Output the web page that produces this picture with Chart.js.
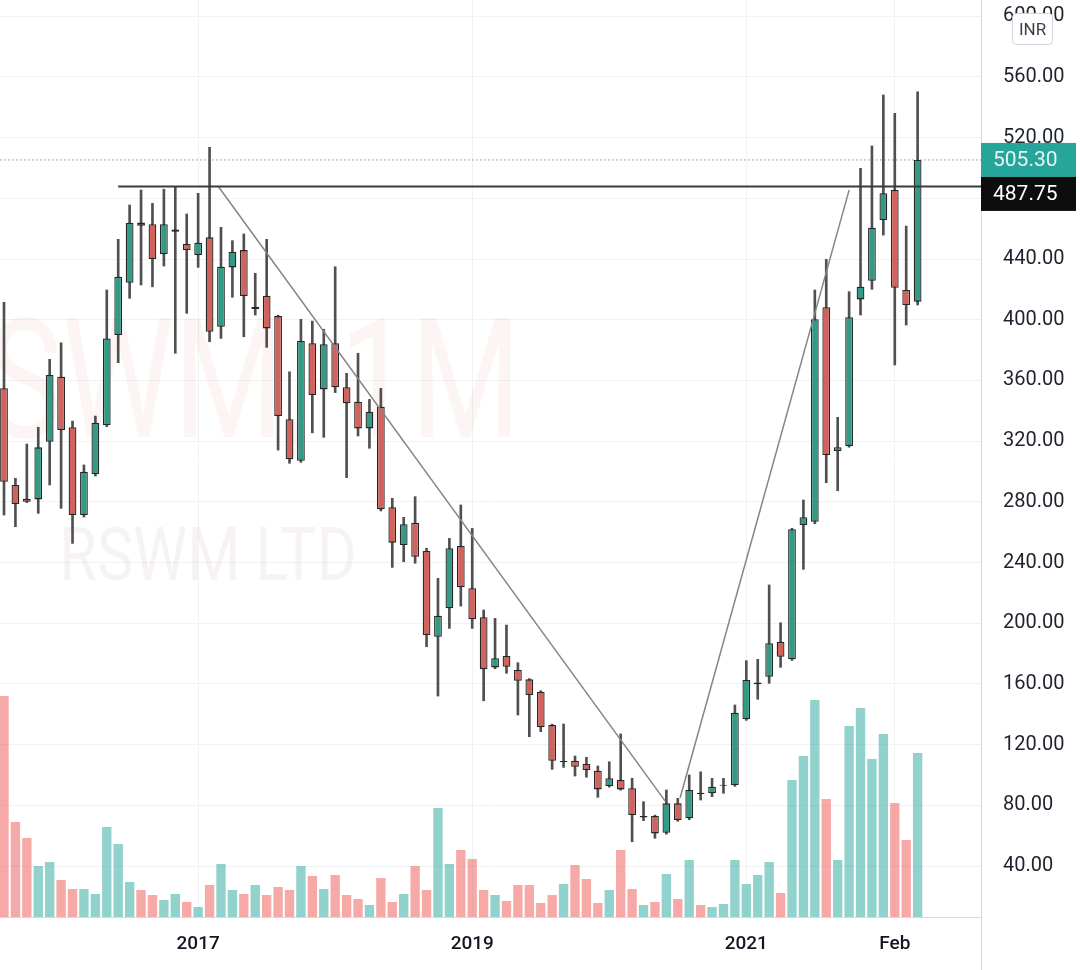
<!DOCTYPE html>
<html>
<head>
<meta charset="utf-8">
<script src="https://cdn.jsdelivr.net/npm/chart.js@4.4.1/dist/chart.umd.min.js"></script>
<style>
  html, body { margin: 0; padding: 0; background: #ffffff; }
</style>
</head>
<body>
<canvas id="chart" width="1080" height="970"></canvas>
<script>
// RSWM LTD, monthly candles (INR), Aug 2015 .. Apr 2022
const months = [
    '2015-08', '2015-09', '2015-10', '2015-11', '2015-12',
    '2016-01', '2016-02', '2016-03', '2016-04', '2016-05', '2016-06', '2016-07', '2016-08', '2016-09', '2016-10', '2016-11', '2016-12',
    '2017-01', '2017-02', '2017-03', '2017-04', '2017-05', '2017-06', '2017-07', '2017-08', '2017-09', '2017-10', '2017-11', '2017-12',
    '2018-01', '2018-02', '2018-03', '2018-04', '2018-05', '2018-06', '2018-07', '2018-08', '2018-09', '2018-10', '2018-11', '2018-12',
    '2019-01', '2019-02', '2019-03', '2019-04', '2019-05', '2019-06', '2019-07', '2019-08', '2019-09', '2019-10', '2019-11', '2019-12',
    '2020-01', '2020-02', '2020-03', '2020-04', '2020-05', '2020-06', '2020-07', '2020-08', '2020-09', '2020-10', '2020-11', '2020-12',
    '2021-01', '2021-02', '2021-03', '2021-04', '2021-05', '2021-06', '2021-07', '2021-08', '2021-09', '2021-10', '2021-11', '2021-12',
    '2022-01', '2022-02', '2022-03', '2022-04'
];
const opens = [
    354.8, 291.1, 282.0, 281.6, 319.6,
    362.4, 329.1, 271.3, 298.1, 330.6, 389.9, 424.4, 464.0, 462.9, 443.3, 458.0, 449.9,
    442.6, 454.3, 395.4, 434.5, 445.9, 407.0, 415.8, 402.4, 334.4, 307.1, 384.5, 354.1,
    384.5, 355.5, 346.0, 328.4, 342.7, 276.4, 251.5, 266.2, 247.6, 191.1, 209.8, 250.9,
    223.0, 203.9, 170.9, 178.4, 169.2, 163.0, 154.9, 132.9, 108.5, 109.4, 107.2, 102.8,
    92.7, 96.7, 91.2, 72.0, 73.0, 61.9, 81.3, 71.4, 88.3, 87.9, 92.9, 93.4,
    136.7, 159.8, 164.7, 187.8, 176.2, 264.7, 266.9, 408.2, 313.5, 316.8, 413.4, 425.7,
    465.7, 485.5, 419.6, 411.9
];
const highs = [
    411.5, 295.5, 318.1, 329.1, 373.9,
    384.8, 333.2, 304.3, 336.5, 419.6, 453.0, 475.6, 485.5, 476.7, 486.0, 487.6, 469.7,
    483.3, 513.6, 460.9, 452.1, 456.5, 430.6, 453.0, 403.0, 365.7, 400.3, 399.1, 393.7,
    434.9, 364.7, 377.9, 347.5, 354.8, 282.3, 269.8, 283.4, 249.4, 229.6, 255.9, 277.9,
    262.5, 208.7, 203.2, 198.8, 174.0, 163.5, 155.5, 133.5, 133.6, 112.5, 111.6, 105.9,
    108.7, 127.0, 97.8, 82.4, 73.5, 90.1, 84.6, 100.0, 102.1, 97.8, 97.8, 146.1,
    175.3, 176.2, 225.2, 200.3, 262.5, 281.2, 419.6, 439.8, 335.7, 418.5, 499.8, 514.5,
    548.1, 536.0, 461.7, 550.2
];
const lows = [
    271.3, 263.6, 279.5, 272.4, 291.1,
    275.7, 252.6, 270.0, 297.0, 329.5, 371.7, 414.1, 422.9, 421.7, 435.4, 377.9, 404.2,
    434.5, 385.5, 387.7, 414.8, 388.8, 403.1, 381.8, 314.1, 305.4, 306.0, 325.5, 322.5,
    352.0, 295.9, 323.4, 315.3, 274.0, 236.8, 240.5, 239.5, 184.5, 152.0, 196.6, 211.3,
    196.6, 148.9, 170.0, 167.0, 139.5, 125.2, 128.5, 103.7, 105.0, 99.3, 98.5, 85.3,
    92.0, 90.0, 56.0, 69.9, 58.3, 61.0, 69.5, 70.5, 83.5, 85.7, 87.9, 92.5,
    136.0, 149.9, 160.4, 170.9, 175.5, 235.5, 265.5, 292.6, 287.3, 316.0, 403.1, 420.0,
    455.8, 370.2, 396.5, 409.7
];
const closes = [
    293.2, 278.6, 280.0, 315.9, 363.6,
    327.3, 271.3, 299.8, 332.1, 387.7, 428.3, 463.9, 462.0, 440.0, 462.9, 459.5, 445.9,
    450.7, 392.1, 434.9, 444.8, 415.6, 408.5, 394.3, 336.5, 308.0, 386.0, 350.4, 383.8,
    355.5, 344.9, 328.4, 339.4, 275.1, 253.1, 265.2, 243.8, 192.2, 204.9, 249.4, 223.7,
    202.6, 169.6, 176.9, 171.3, 162.1, 152.7, 131.4, 109.4, 109.2, 105.4, 103.3, 90.5,
    97.8, 90.5, 73.6, 73.0, 61.5, 81.3, 70.3, 90.1, 87.5, 92.3, 93.6, 141.0,
    162.6, 161.0, 186.8, 177.9, 261.9, 269.8, 400.3, 310.8, 316.0, 401.6, 421.7, 460.6,
    483.3, 421.1, 409.7, 505.3
];
// volume, estimated (same arbitrary unit as the hidden volume axis)
const volumes = [
    221, 95, 79, 51, 55,
    37, 28, 28, 23, 90, 73, 35, 27, 22, 17, 23, 15,
    10, 32, 53, 27, 23, 32, 22, 30, 27, 51, 41, 28,
    42, 22, 18, 12, 39, 15, 23, 51, 27, 109, 53, 67,
    58, 27, 22, 16, 32, 32, 14, 22, 33, 52, 38, 14,
    27, 67, 28, 12, 15, 43, 18, 57, 12, 10, 13, 57,
    33, 42, 55, 24, 137, 161, 217, 118, 57, 191, 209, 158,
    183, 114, 77, 164
];

const tickMonths = ['2017-01', '2019-01', '2021-01', '2022-02'];
const tickLabels = ['2017', '2019', '2021', 'Feb'];
const priceTicks = [40, 80, 120, 160, 200, 240, 280, 320, 360, 400, 440, 480, 520, 560, 600];

// drawn lines: [month index, price]
const levelPrice = 487.75;
const levelLine = [[10, 487.75], [85.55, 487.75]];
const trendDown = [[18.8, 487.5], [57.9, 82.8]];
const trendUp = [[59.2, 84.8], [74.0, 485.4]];
const lastPrice = 505.30;

const xMin = -0.35, xMax = 85.55;
const priceMin = 6.4, priceMax = 610.7;
const volMax = 917;

const upBody = '#339a85', downBody = '#d2625e';
const upVol = 'rgba(38,166,154,0.5)', downVol = 'rgba(239,83,80,0.5)';
const gridColor = '#f0f2f6';
const fontFamily = 'Roboto, "Liberation Sans", sans-serif';

const isUp = closes.map((c, i) => c >= opens[i]);
const tickIdx = tickMonths.map(m => months.indexOf(m));
const pts = arr => arr.map(p => ({ x: p[0], y: p[1] }));

const watermark = {
    id: 'watermark',
    beforeDatasetsDraw(chart) {
        const { ctx, chartArea: a } = chart;
        ctx.save();
        ctx.beginPath();
        ctx.rect(a.left, a.top, a.width, a.height);
        ctx.clip();
        ctx.textAlign = 'center';
        ctx.textBaseline = 'alphabetic';
        ctx.save();
        ctx.translate(215, 437);
        ctx.scale(1, 1.33);
        ctx.font = '126px ' + fontFamily;
        ctx.fillStyle = 'rgba(225,110,110,0.08)';
        ctx.fillText('RSWM, 1M', 0, 0);
        ctx.restore();
        ctx.save();
        ctx.translate(208, 580);
        ctx.scale(1, 1.22);
        ctx.font = '61px ' + fontFamily;
        ctx.fillStyle = 'rgba(190,160,160,0.12)';
        ctx.fillText('RSWM LTD', 0, 0);
        ctx.restore();
        ctx.restore();
    }
};

const priceTags = {
    id: 'priceTags',
    afterDraw(chart) {
        const { ctx, chartArea: a } = chart;
        const y = chart.scales.y;
        const h = 34, left = a.right, w = 95;
        ctx.save();
        // separator continues through time axis
        ctx.strokeStyle = '#d6d9e0';
        ctx.lineWidth = 1;
        ctx.beginPath();
        ctx.moveTo(a.right + 0.5, a.bottom);
        ctx.lineTo(a.right + 0.5, chart.height);
        ctx.stroke();

        const y1 = y.getPixelForValue(lastPrice) - h / 2;
        ctx.fillStyle = '#26a69a';
        ctx.fillRect(left, y1, w, h);
        ctx.fillStyle = '#0d0d0d';
        ctx.fillRect(left, y1 + h, w, h);
        ctx.font = '21px ' + fontFamily;
        ctx.textBaseline = 'middle';
        ctx.textAlign = 'left';
        ctx.fillStyle = '#e3f7f3';
        ctx.fillText(lastPrice.toFixed(2), left + 12, y1 + h / 2 + 1);
        ctx.fillStyle = '#ffffff';
        ctx.fillText(levelPrice.toFixed(2), left + 12, y1 + h * 1.5 + 1);

        // currency badge over the top tick
        const bx = 1012, by = 13, bw = 40, bh = 31;
        ctx.beginPath();
        ctx.roundRect(bx + 0.5, by + 0.5, bw, bh, 4);
        ctx.fillStyle = '#ffffff';
        ctx.fill();
        ctx.strokeStyle = '#d1d4dc';
        ctx.stroke();
        ctx.fillStyle = '#3c3f47';
        ctx.textAlign = 'center';
        ctx.font = '17px ' + fontFamily;
        ctx.fillText('INR', bx + bw / 2 + 0.5, by + bh / 2 + 2);
        ctx.restore();
    }
};

const lineStyle = { type: 'line', pointRadius: 0, tension: 0, fill: false, yAxisID: 'y' };

new Chart(document.getElementById('chart'), {
    type: 'bar',
    data: {
        datasets: [
            Object.assign({}, lineStyle, {
                label: 'last', order: 0,
                data: pts([[xMin, lastPrice], [xMax, lastPrice]]),
                borderColor: 'rgba(80,120,115,0.75)', borderWidth: 1, borderDash: [1.5, 2.5]
            }),
            Object.assign({}, lineStyle, {
                label: 'level', order: 0,
                data: pts(levelLine), borderColor: '#3a3a3a', borderWidth: 2
            }),
            Object.assign({}, lineStyle, {
                label: 'down', order: 0,
                data: pts(trendDown), borderColor: '#858585', borderWidth: 1.5
            }),
            Object.assign({}, lineStyle, {
                label: 'up', order: 0,
                data: pts(trendUp), borderColor: '#858585', borderWidth: 1.5
            }),
            {
                label: 'body', order: 1, grouped: false, yAxisID: 'y',
                data: opens.map((o, i) => ({ x: i, y: [o, closes[i]] })),
                backgroundColor: isUp.map(u => u ? upBody : downBody),
                borderColor: '#262626', borderWidth: 1.3, borderSkipped: false,
                barPercentage: 0.68, categoryPercentage: 1
            },
            {
                label: 'wick', order: 2, grouped: false, yAxisID: 'y',
                data: lows.map((l, i) => ({ x: i, y: [l, highs[i]] })),
                backgroundColor: '#505050', borderWidth: 0,
                barPercentage: 1, categoryPercentage: 1, maxBarThickness: 2
            },
            {
                label: 'volume', order: 3, grouped: false, yAxisID: 'yv',
                data: volumes.map((v, i) => ({ x: i, y: v })),
                backgroundColor: isUp.map(u => u ? upVol : downVol),
                borderWidth: 0, barPercentage: 0.82, categoryPercentage: 1
            }
        ]
    },
    options: {
        responsive: false,
        animation: false,
        layout: { padding: 0 },
        plugins: { legend: { display: false }, tooltip: { enabled: false } },
        scales: {
            x: {
                type: 'linear', min: xMin, max: xMax, offset: false,
                afterBuildTicks: s => { s.ticks = tickIdx.map(v => ({ value: v })); },
                afterFit: s => { s.height = 53; s.paddingLeft = 0; s.paddingRight = 0; },
                grid: { color: gridColor, offset: false, drawTicks: false },
                border: { display: true, color: '#d6d9e0' },
                ticks: {
                    autoSkip: false, maxRotation: 0, padding: 16,
                    color: '#131722', font: { family: fontFamily, size: 19, weight: '500' },
                    callback: v => tickLabels[tickIdx.indexOf(v)]
                }
            },
            y: {
                position: 'right', min: priceMin, max: priceMax,
                afterBuildTicks: s => { s.ticks = priceTicks.map(v => ({ value: v })); },
                afterFit: s => { s.width = 99; s.paddingTop = 0; s.paddingBottom = 0; },
                grid: { color: gridColor, drawTicks: false },
                border: { display: true, color: '#d6d9e0' },
                ticks: {
                    padding: 22, color: '#1e222d',
                    font: { family: fontFamily, size: 20 },
                    callback: v => Number(v).toFixed(2)
                }
            },
            yv: {
                display: false, min: 0, max: volMax
            }
        }
    },
    plugins: [watermark, priceTags]
});
</script>
</body>
</html>
